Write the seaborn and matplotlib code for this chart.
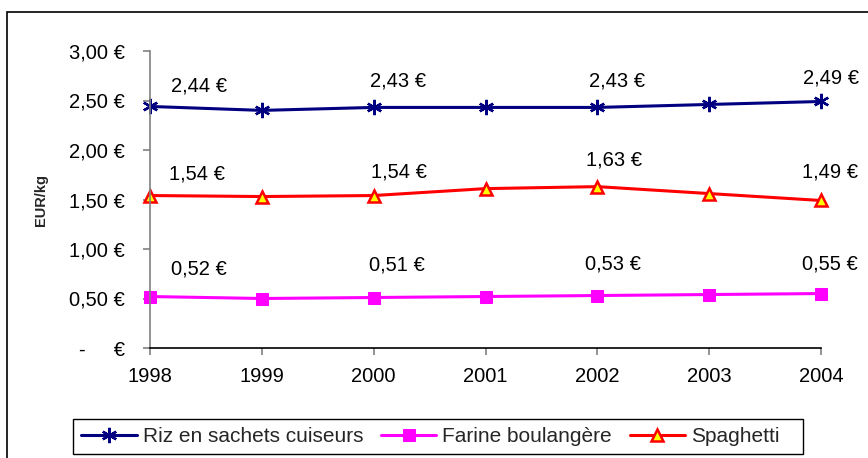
import matplotlib
matplotlib.use("Agg")
import matplotlib.pyplot as plt
import seaborn as sns
import pandas as pd
from matplotlib.patches import Rectangle

years = [1998, 1999, 2000, 2001, 2002, 2003, 2004]
riz = [2.44, 2.40, 2.43, 2.43, 2.43, 2.46, 2.49]
farine = [0.52, 0.50, 0.51, 0.52, 0.53, 0.54, 0.55]
spaghetti = [1.54, 1.53, 1.54, 1.61, 1.63, 1.56, 1.49]
series_names = ["Riz en sachets cuiseurs", "Farine boulangère", "Spaghetti"]
label_years = [1998, 2000, 2002, 2004]
yticks = [0, 0.5, 1.0, 1.5, 2.0, 2.5, 3.0]
ytick_labels = ["-     €", "0,50 €", "1,00 €", "1,50 €", "2,00 €", "2,50 €", "3,00 €"]

sns.set_theme(style="white")
plt.rcParams["font.family"] = ["Liberation Sans", "DejaVu Sans"]

FS = 14.5

fig = plt.figure(figsize=(8.68, 4.58), dpi=100)
ax = fig.add_axes([150 / 868, 1 - 348 / 458, (821 - 150) / 868, (348 - 51) / 458])

df = pd.DataFrame({"year": years, "riz": riz, "farine": farine, "spaghetti": spaghetti})

sns.lineplot(data=df, x="year", y="riz", ax=ax, color="#000080", marker=(6, 2, 0),
             markersize=11, markeredgewidth=1.7, markeredgecolor="#000080",
             linewidth=2.2, label=series_names[0], clip_on=False)
sns.lineplot(data=df, x="year", y="farine", ax=ax, color="#FF00FF", marker="s",
             markersize=9, markerfacecolor="#FF00FF", markeredgecolor="#FF00FF",
             linewidth=2.2, label=series_names[1], clip_on=False)
sns.lineplot(data=df, x="year", y="spaghetti", ax=ax, color="#FF0000", marker="^",
             markersize=9, markerfacecolor="#FFFF00", markeredgecolor="#FF0000",
             markeredgewidth=1.8, linewidth=2.2, label=series_names[2], clip_on=False)

# data labels (offsets in pixels, as placed in the original)
offsets = {
    "riz": [(49, 20), (24, 26), (20, 26), (10, 23)],
    "spaghetti": [(47, 22), (25, 24), (17, 27), (9, 28)],
    "farine": [(49, 28), (23, 33), (16, 32), (9, 30)],
}
for col in ["riz", "spaghetti", "farine"]:
    vals = df.set_index("year")[col]
    for yr, (dx, dy) in zip(label_years, offsets[col]):
        v = vals[yr]
        ax.annotate(f"{v:.2f}".replace(".", ",") + " €", xy=(yr, v),
                    xytext=(dx, dy), textcoords="offset pixels",
                    ha="center", va="center", fontsize=FS, color="black",
                    annotation_clip=False)

ax.set_xlim(1998, 2004)
ax.set_ylim(0, 3)
ax.set_xticks(years)
ax.set_xticklabels([str(y) for y in years], fontsize=FS)
ax.set_yticks(yticks)
ax.set_yticklabels(ytick_labels, fontsize=FS)
ax.set_xlabel("")
ax.set_ylabel("EUR/kg", fontsize=10.5, fontweight="bold")
ax.yaxis.set_label_coords((48 - 150) / 671, (348 - 200) / 297)

for s in ["top", "right"]:
    ax.spines[s].set_visible(False)
ax.spines["left"].set_color("#808080")
ax.spines["left"].set_linewidth(1.2)
ax.spines["bottom"].set_color("black")
ax.spines["bottom"].set_linewidth(1.2)
ax.tick_params(axis="both", which="both", direction="out", length=5, width=1.2,
               color="#808080", left=True, bottom=True, labelcolor="black")
ax.tick_params(axis="y", pad=13)
ax.tick_params(axis="x", pad=9)
ax.grid(False)

leg = ax.legend(loc="center", bbox_to_anchor=((430.5 - 150) / 671, (348 - 436.5) / 297),
                ncol=3, fontsize=15, frameon=False, handlelength=2.65,
                handletextpad=0.3, columnspacing=0.85, borderpad=0, borderaxespad=0)

# legend frame as in the original (extra padding on the right)
fig.patches.append(Rectangle((73 / 868, 1 - 454 / 458), (803 - 73) / 868, 35 / 458,
                             transform=fig.transFigure, fill=False,
                             edgecolor="black", linewidth=1.0))

# outer chart border
fig.patches.append(Rectangle((7 / 868, -0.05), 1.2, 1 - 12 / 458 + 0.05,
                             transform=fig.transFigure, fill=False,
                             edgecolor="black", linewidth=1.2))

fig.savefig("out.png", dpi=100)
